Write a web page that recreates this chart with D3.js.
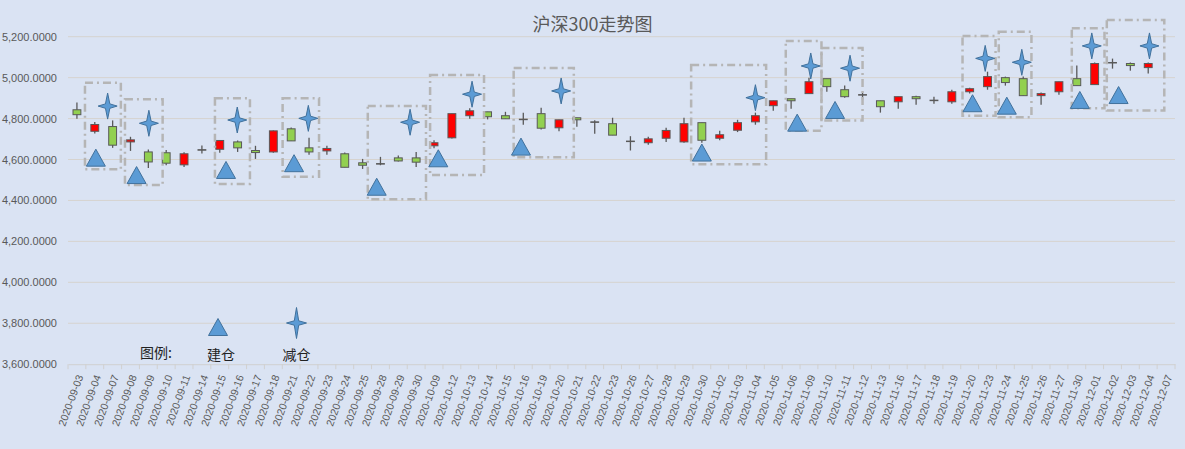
<!DOCTYPE html>
<html>
<meta charset="utf-8">
<title>沪深300走势图</title>
<style>
  body { margin: 0; background: #dae3f3; }
  .grid line { stroke: #d6d3cf; stroke-width: 1; }
  .ylab text { font: 11px "Liberation Sans", Arial, sans-serif; fill: #595959; }
  .xlab text { font: 10.5px "Liberation Sans", Arial, sans-serif; fill: #595959; }
  .title { font: 18px "Noto Sans CJK SC", sans-serif; fill: #595959; }
  .legend text { font: 14px "Noto Sans CJK SC", sans-serif; fill: #222; }
  .wick { stroke: #595959; stroke-width: 1.3; }
  .body { stroke: #595959; stroke-width: 1; }
  .zone { fill: none; stroke: #b5b5b5; stroke-width: 2.5; stroke-dasharray: 8,4,2,4; }
  .buy, .sell { fill: #5b9bd5; stroke: #41719c; stroke-width: 1; }
</style>
<body>
<div id="chart"></div>
<script src="https://d3js.org/d3.v7.min.js"></script>
<script>
// trading days
var dates = ["2020-09-03","2020-09-04","2020-09-07","2020-09-08","2020-09-09","2020-09-10","2020-09-11",
  "2020-09-14","2020-09-15","2020-09-16","2020-09-17","2020-09-18","2020-09-21","2020-09-22","2020-09-23",
  "2020-09-24","2020-09-25","2020-09-28","2020-09-29","2020-09-30","2020-10-09","2020-10-12","2020-10-13",
  "2020-10-14","2020-10-15","2020-10-16","2020-10-19","2020-10-20","2020-10-21","2020-10-22","2020-10-23",
  "2020-10-26","2020-10-27","2020-10-28","2020-10-29","2020-10-30","2020-11-02","2020-11-03","2020-11-04",
  "2020-11-05","2020-11-06","2020-11-09","2020-11-10","2020-11-11","2020-11-12","2020-11-13","2020-11-16",
  "2020-11-17","2020-11-18","2020-11-19","2020-11-20","2020-11-23","2020-11-24","2020-11-25","2020-11-26",
  "2020-11-27","2020-11-30","2020-12-01","2020-12-02","2020-12-03","2020-12-04","2020-12-07"];

// OHLC (12-07 has no candle)
var opens  = [4843,4738,4761,4686,4637,4633,4574,4648,4650,4686,4644,4637,4750,4657,4642,4628,4584,4580,4608,4608,
  4667,4706,4814,4833,4814,4797,4824,4755,4804,4784,4775,4690,4682,4704,4686,4780,4704,4743,4784,4863,
  4897,4922,4995,4941,4917,4887,4882,4907,4890,4882,4931,4956,5000,4995,4912,4931,4995,4966,5074,5069,5049,null];
var highs  = [4878,4783,4791,4711,4649,4647,4636,4668,4693,4693,4667,4742,4756,4706,4667,4634,4603,4613,4619,4637,
  4694,4824,4850,4833,4833,4829,4853,4794,4804,4792,4804,4714,4711,4755,4804,4780,4740,4794,4829,4887,
  4897,5000,4995,4961,4927,4887,4907,4912,4907,4941,4951,5029,5005,5005,4927,4980,5059,5074,5093,5074,5074,null];
var lows   = [4799,4727,4657,4642,4559,4572,4564,4629,4633,4637,4603,4633,4691,4623,4623,4562,4554,4572,4590,4564,
  4655,4703,4799,4796,4799,4770,4747,4738,4760,4726,4719,4644,4672,4686,4682,4682,4694,4734,4770,4838,
  4848,4922,4931,4902,4892,4829,4848,4868,4873,4873,4923,4941,4961,4912,4868,4917,4961,4966,5044,5034,5020,null];
var closes = [4819,4771,4670,4696,4588,4582,4628,4648,4693,4657,4634,4740,4691,4637,4654,4562,4572,4580,4593,4587,
  4682,4824,4838,4809,4799,4797,4753,4794,4794,4784,4719,4690,4701,4742,4775,4694,4721,4780,4814,4887,
  4887,4980,4956,4907,4917,4858,4907,4897,4890,4931,4946,5005,4976,4912,4922,4980,4961,5069,5074,5059,5069,null];

// 建仓 markers: position in day index and index level
var buyAt    = [1.06,3.34,8.35,12.16,16.79,20.24,24.87,35.0,40.34,42.46,50.16,52.08,56.17,58.34];
var buyLevel = [4609,4524,4549,4582,4467,4606,4663,4634,4780,4842,4875,4863,4891,4915];
// 减仓 markers
var sellAt    = [1.72,4.03,8.98,12.96,18.66,22.13,27.12,38.0,41.1,43.3,50.87,52.92,56.84,60.07];
var sellLevel = [4861,4777,4793,4801,4782,4919,4935,4902,5057,5046,5094,5075,5155,5155];

// dashed zones around each trade: day-index span and level span
var zoneFrom = [0.45,2.69,7.73,11.52,16.29,19.78,24.46,34.4,39.7,41.7,49.6,51.63,55.72,57.68];
var zoneTo   = [2.46,4.80,9.69,13.56,19.55,22.8,27.83,38.6,41.7,44.0,51.45,53.46,57.55,60.9];
var zoneTop  = [4975,4894,4899,4899,4861,5013,5047,5062,5179,5145,5203,5224,5241,5282];
var zoneBot  = [4552,4476,4480,4516,4406,4524,4611,4577,4741,4790,4814,4806,4850,4839];

var yTicks = [3600,3800,4000,4200,4400,4600,4800,5000,5200];

var width = 1185, height = 449;
var margin = {top: 36.7, right: 10, bottom: 84.8, left: 68};

var svg = d3.select("#chart").append("svg")
    .attr("width", width)
    .attr("height", height)
    .style("background", "#dae3f3");

var x = d3.scaleBand()
    .domain(dates)
    .range([margin.left, width - margin.right]);

var xi = d3.scaleLinear()
    .domain([0, dates.length - 1])
    .range([x(dates[0]) + x.bandwidth() / 2, x(dates[dates.length - 1]) + x.bandwidth() / 2]);

var y = d3.scaleLinear()
    .domain([3600, 5200])
    .range([height - margin.bottom, margin.top]);

var fmt = d3.format(",.4f");

svg.append("text")
    .attr("class", "title")
    .attr("x", width / 2)
    .attr("y", 31)
    .attr("text-anchor", "middle")
    .text("沪深300走势图");

// gridlines
svg.append("g").attr("class", "grid")
  .selectAll("line")
    .data(yTicks.slice(1))
  .enter().append("line")
    .attr("x1", margin.left)
    .attr("x2", width - margin.right)
    .attr("y1", function(d) { return y(d); })
    .attr("y2", function(d) { return y(d); });

// y labels
var yAxis = svg.append("g")
    .attr("class", "ylab")
    .attr("transform", "translate(" + (margin.left - 11) + ",0)")
    .call(d3.axisLeft(y).tickValues(yTicks).tickFormat(fmt).tickSize(0).tickPadding(0));
yAxis.select(".domain").remove();

// x axis
var xAxis = svg.append("g")
    .attr("class", "xlab")
    .attr("transform", "translate(0," + y(3600) + ")")
    .call(d3.axisBottom(x).tickSize(0).tickPadding(0));
xAxis.select(".domain").attr("stroke", "#d0d0d0");
xAxis.selectAll("text")
    .attr("text-anchor", "end")
    .attr("dy", "0.35em")
    .attr("transform", "translate(3,11) rotate(-70)");

svg.append("g")
  .selectAll("line")
    .data(d3.range(dates.length + 1))
  .enter().append("line")
    .attr("x1", function(i) { return margin.left + i * x.step(); })
    .attr("x2", function(i) { return margin.left + i * x.step(); })
    .attr("y1", y(3600))
    .attr("y2", y(3600) + 5)
    .attr("stroke", "#d0d0d0");

// candles
var candles = dates.map(function(d, i) {
  return {date: d, o: opens[i], h: highs[i], l: lows[i], c: closes[i]};
}).filter(function(d) { return d.o != null; });

var bw = x.bandwidth() * 0.44;

var cg = svg.append("g").attr("class", "candles")
  .selectAll("g")
    .data(candles)
  .enter().append("g");

cg.append("line")
    .attr("class", "wick")
    .attr("x1", function(d) { return x(d.date) + x.bandwidth() / 2; })
    .attr("x2", function(d) { return x(d.date) + x.bandwidth() / 2; })
    .attr("y1", function(d) { return y(d.h); })
    .attr("y2", function(d) { return y(d.l); });

cg.append("rect")
    .attr("class", "body")
    .attr("x", function(d) { return x(d.date) + (x.bandwidth() - bw) / 2; })
    .attr("width", bw)
    .attr("y", function(d) { return y(Math.max(d.o, d.c)); })
    .attr("height", function(d) { return Math.max(0.5, Math.abs(y(d.o) - y(d.c))); })
    .attr("fill", function(d) { return d.c > d.o ? "#ff0000" : (d.c < d.o ? "#92d050" : "#595959"); });

// dashed zones
svg.append("g")
  .selectAll("rect")
    .data(zoneFrom.map(function(f, i) { return {f: f, t: zoneTo[i], top: zoneTop[i], bot: zoneBot[i]}; }))
  .enter().append("rect")
    .attr("class", "zone")
    .attr("x", function(d) { return xi(d.f); })
    .attr("width", function(d) { return xi(d.t) - xi(d.f); })
    .attr("y", function(d) { return y(d.top); })
    .attr("height", function(d) { return y(d.bot) - y(d.top); });

var triPath = "M0,-8.5L9.5,8.5L-9.5,8.5Z";
function starPath(w, h) {
  var a = 2.2;
  return "M0," + (-h / 2) + "L" + a + "," + (-a) + "L" + (w / 2) + ",0L" + a + "," + a +
         "L0," + (h / 2) + "L" + (-a) + "," + a + "L" + (-w / 2) + ",0L" + (-a) + "," + (-a) + "Z";
}

svg.append("g")
  .selectAll("path")
    .data(buyAt.map(function(p, i) { return [p, buyLevel[i]]; }))
  .enter().append("path")
    .attr("class", "buy")
    .attr("d", triPath)
    .attr("transform", function(d) { return "translate(" + xi(d[0]) + "," + y(d[1]) + ")"; });

svg.append("g")
  .selectAll("path")
    .data(sellAt.map(function(p, i) { return [p, sellLevel[i]]; }))
  .enter().append("path")
    .attr("class", "sell")
    .attr("d", starPath(19, 26))
    .attr("transform", function(d) { return "translate(" + xi(d[0]) + "," + y(d[1]) + ")"; });

// legend
var lg = svg.append("g").attr("class", "legend");
lg.append("text").attr("x", 140).attr("y", 358).text("图例:");
lg.append("path").attr("class", "buy").attr("d", triPath).attr("transform", "translate(218,327)");
lg.append("text").attr("x", 221).attr("y", 360).attr("text-anchor", "middle").text("建仓");
lg.append("path").attr("class", "sell").attr("d", starPath(20, 31)).attr("transform", "translate(296.5,323)");
lg.append("text").attr("x", 296.5).attr("y", 360).attr("text-anchor", "middle").text("减仓");
</script>
</body>
</html>
